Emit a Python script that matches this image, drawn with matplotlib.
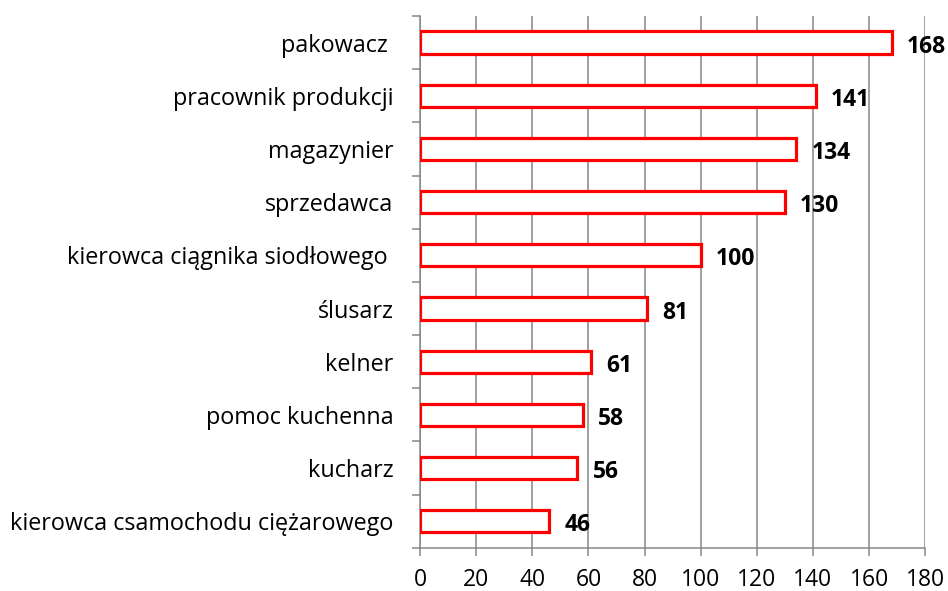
import matplotlib.pyplot as plt
import numpy as np

# job offers by occupation
occupations = ["pakowacz ", "pracownik produkcji", "magazynier", "sprzedawca",
               "kierowca ciągnika siodłowego ", "ślusarz", "kelner",
               "pomoc kuchenna", "kucharz", "kierowca csamochodu ciężarowego"]
counts = [168, 141, 134, 130, 100, 81, 61, 58, 56, 46]
x_ticks = list(range(0, 181, 20))

plt.rcParams['font.family'] = ['Open Sans', 'DejaVu Sans']
grid_col = "#868686"

fig = plt.figure(figsize=(9.48, 5.91), dpi=100)
ax = fig.add_axes([0.443, 0.073, 0.533, 0.9])

y = np.arange(len(occupations))[::-1]
ax.barh(y, counts, height=0.42, color="white", edgecolor="#ff0000", linewidth=2.3, zorder=3)

for yi, v in zip(y, counts):
    ax.annotate(str(v), (v, yi), xytext=(11, -3), textcoords="offset points",
                va="center", ha="left", fontsize=16.5, fontweight="bold", color="black")

ax.set_xlim(0, 180)
ax.set_ylim(-0.5, len(occupations) - 0.5)
ax.set_xticks(x_ticks)
ax.set_xticklabels([str(t) for t in x_ticks], fontsize=16.5)
ax.set_yticks(y)
ax.set_yticklabels(occupations, fontsize=16.8)
ax.set_yticks(np.arange(-0.5, len(occupations), 1), minor=True)

ax.grid(axis="x", color=grid_col, linewidth=1.1, zorder=0)
for s in ["top", "right"]:
    ax.spines[s].set_visible(False)
for s in ["left", "bottom"]:
    ax.spines[s].set_color(grid_col)
    ax.spines[s].set_linewidth(1.1)

ax.tick_params(axis="y", which="major", length=0, pad=19)
ax.tick_params(axis="y", which="minor", length=6, color=grid_col, width=1.1)
ax.tick_params(axis="x", length=6, color=grid_col, width=1.1, pad=8.5)

fig.savefig("out.png", dpi=100)
